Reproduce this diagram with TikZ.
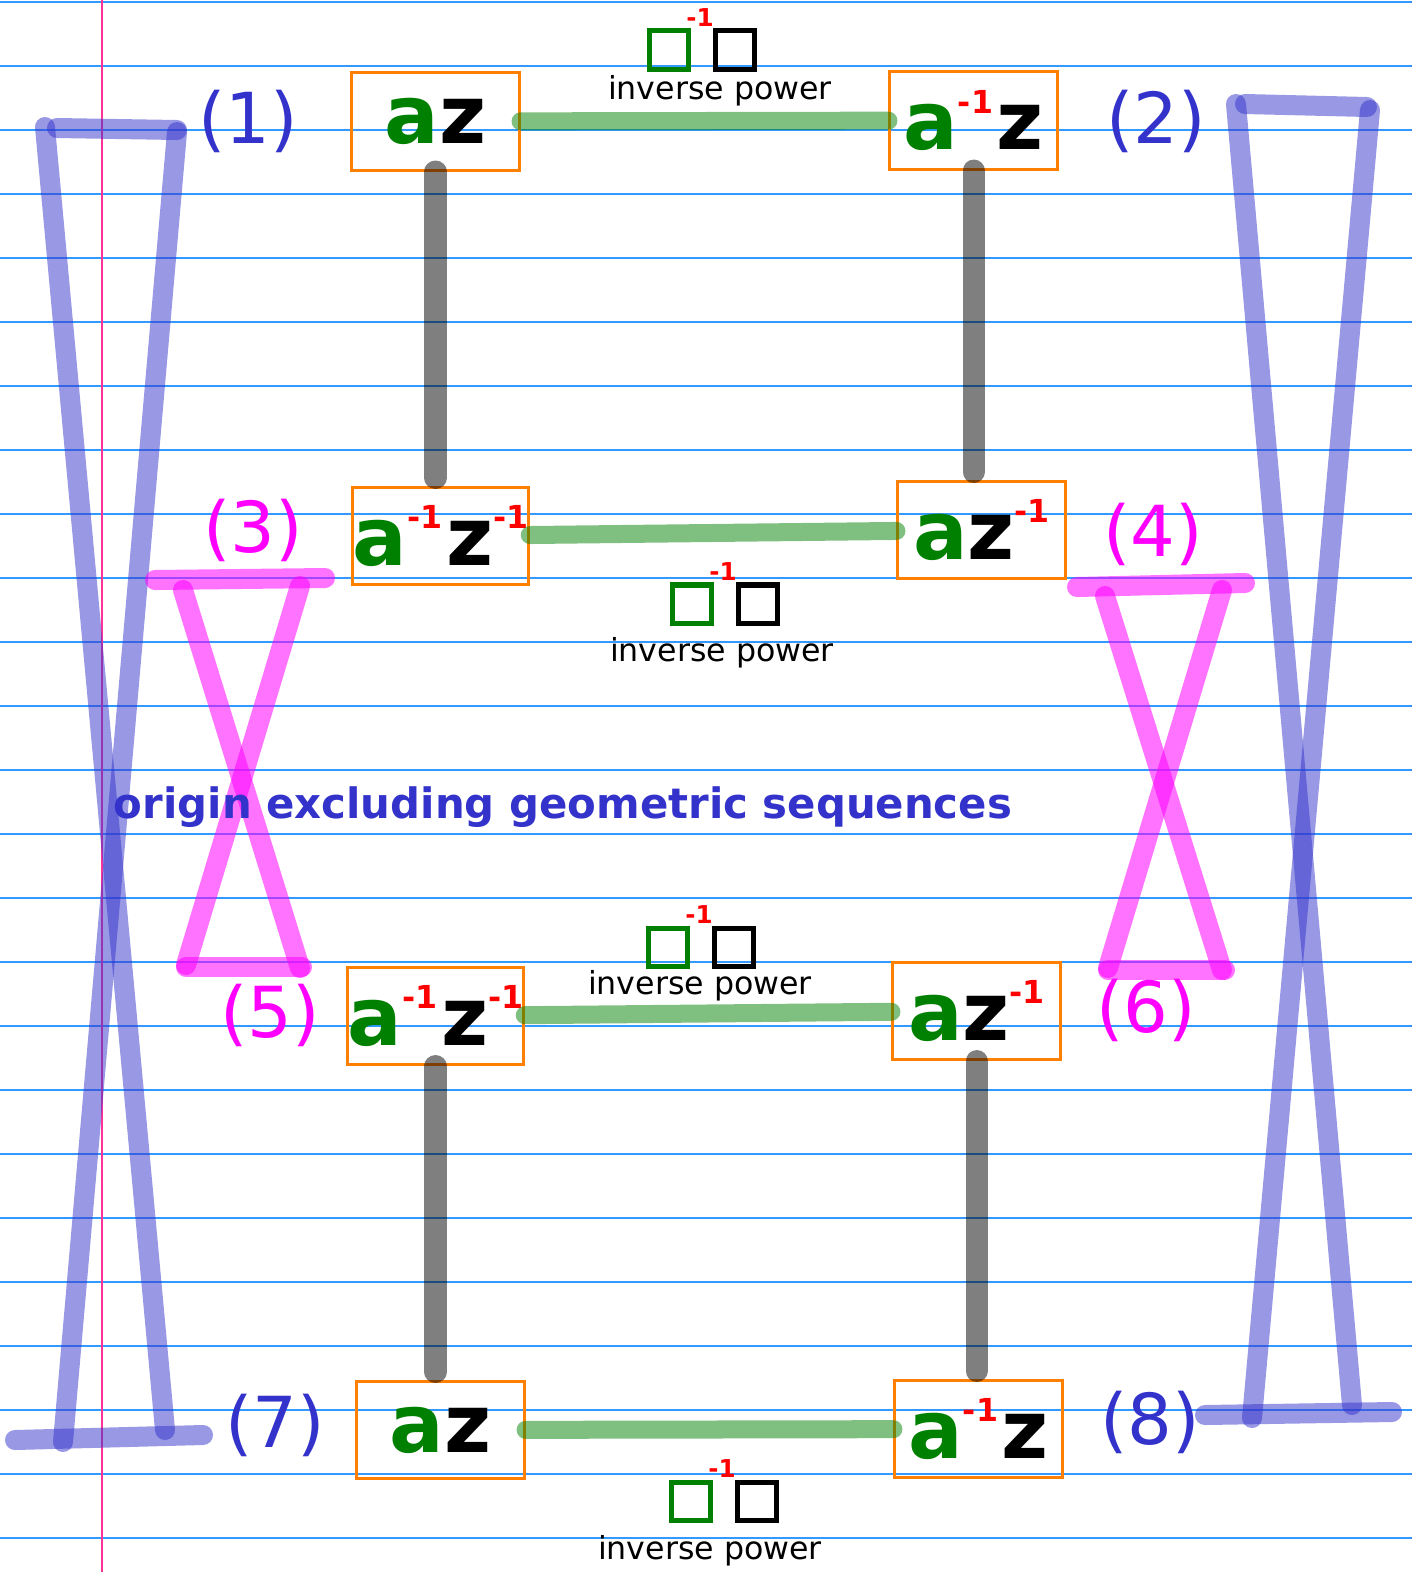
\documentclass[tikz,border=0pt]{standalone}
\usepackage{fontspec}
\setmainfont{DejaVu Sans}
\usepackage{xcolor}
\usepackage{tikz}
\usetikzlibrary{positioning}
\definecolor{inkblue}{HTML}{3333CC}
\definecolor{inkpink}{RGB}{255,0,255}
\definecolor{ruleblue}{HTML}{3399FF}
\definecolor{marginpink}{HTML}{FF3399}
\definecolor{boxorange}{HTML}{FF8000}
\definecolor{inkgreen}{HTML}{008000}
\definecolor{inkred}{RGB}{255,0,0}
\def\boxW{1.67cm}
\def\boxH{0.97cm}
\def\keySize{0.38cm}
\newcommand{\ta}{\textcolor{inkgreen}{a}}
\newcommand{\tz}{\textcolor{black}{z}}
\newcommand{\inv}{\textcolor{inkred}{\raisebox{0.45em}{\fontsize{9}{9}\selectfont\bfseries -1}}}
\newcommand{\powerkey}[3]{%
% #1 = name, #2 = x, #3 = y (centre of the two squares)
\node[keysq, draw=inkgreen] (#1g) at ({#2-33},{#3}) {};
\node[keysq, draw=black] (#1k) at ({#2+33},{#3}) {};
\node[powmark] (#1m) at ({#2-2},{#3-32}) {-1};
}

\begin{document}
\begin{tikzpicture}[
    x=0.01cm, y=-0.01cm,
    rule/.style={draw=ruleblue, line width=0.4pt},
    term/.style={draw=boxorange, line width=0.03cm, minimum width=\boxW,
        minimum height=\boxH, inner sep=0pt, font=\fontsize{23}{23}\selectfont\bfseries},
    keysq/.style={line width=0.05cm, minimum size=\keySize, inner sep=0pt},
    powmark/.style={text=inkred, inner sep=0pt, font=\fontsize{7}{7}\selectfont\bfseries},
    caption/.style={inner sep=0pt, font=\fontsize{9}{9}\selectfont},
    tag/.style={inner sep=0pt, font=\fontsize{20}{20}\selectfont},
    link/.style={draw=inkgreen, opacity=0.5, line width=0.18cm, line cap=round},
    rung/.style={draw=black, opacity=0.5, line width=0.22cm, line cap=round,
        shorten >=0.08cm},
    bluestroke/.style={draw=inkblue, opacity=0.5, line width=0.2cm, line cap=round},
    pinkstroke/.style={draw=inkpink, opacity=0.55, line width=0.2cm, line cap=round}
]
\useasboundingbox (0,0) rectangle (1412,1572);
\fill[white] (0,0) rectangle (1412,1572);
\foreach \k in {0,...,24}
    \draw[rule] (0,{2+64*\k}) -- (1412,{2+64*\k});
\draw[draw=marginpink, line width=0.4pt] (102,0) -- (102,1572);

% outer hourglasses
\draw[bluestroke] (57,128) -- (177,130);
\draw[bluestroke] (45,127) -- (165,1430);
\draw[bluestroke] (177,132) -- (63,1442);
\draw[bluestroke] (15,1440) -- (203,1435);
\draw[bluestroke] (1245,104) -- (1367,107);
\draw[bluestroke] (1236,104) -- (1352,1405);
\draw[bluestroke] (1370,110) -- (1252,1418);
\draw[bluestroke] (1205,1415) -- (1392,1412);

% inner hourglasses
\draw[pinkstroke] (155,580) -- (325,578);
\draw[pinkstroke] (183,590) -- (300,968);
\draw[pinkstroke] (300,586) -- (186,965);
\draw[pinkstroke] (186,967) -- (302,967);
\draw[pinkstroke] (1077,587) -- (1245,583);
\draw[pinkstroke] (1105,596) -- (1222,970);
\draw[pinkstroke] (1222,590) -- (1108,968);
\draw[pinkstroke] (1108,970) -- (1225,970);

\node[term] (1) at (435.5,121.5) {\ta\tz};
\node[term] (2) at (973.5,120.5) {\ta\inv\kern1pt\tz};
\node[term] (3) at (440.5,536) {\ta\inv\kern1pt\tz\inv};
\node[term] (4) at (981.5,530) {\ta\tz\inv};
\node[term] (5) at (435.5,1016) {\ta\inv\kern1pt\tz\inv};
\node[term] (6) at (976.5,1011) {\ta\tz\inv};
\node[term] (7) at (440.5,1430) {\ta\tz};
\node[term] (8) at (978.5,1429) {\ta\inv\kern1pt\tz};

\node[tag, text=inkblue] (l1) at (248,121) {(1)};
\node[tag, text=inkblue] (l2) at (1156,121) {(2)};
\node[tag, text=inkpink] (l3) at (253,530) {(3)};
\node[tag, text=inkpink] (l4) at (1153,534) {(4)};
\node[tag, text=inkpink] (l5) at (270,1015) {(5)};
\node[tag, text=inkpink] (l6) at (1146,1010) {(6)};
\node[tag, text=inkblue] (l7) at (275,1425) {(7)};
\node[tag, text=inkblue] (l8) at (1150,1422) {(8)};

\draw[link] (1) -- (2);
\draw[link] (3) -- (4);
\draw[link] (5) -- (6);
\draw[link] (7) -- (8);
\draw[rung] (1.south) -- (1.south |- 3.north);
\draw[rung] (2.south) -- (2.south |- 4.north);
\draw[rung] (5.south) -- (5.south |- 7.north);
\draw[rung] (6.south) -- (6.south |- 8.north);

\powerkey{k1}{702}{50}
\powerkey{k2}{725}{604}
\powerkey{k3}{701}{947}
\powerkey{k4}{724}{1501}
\node[caption] (c1) at (720,91) {inverse power};
\node[caption] (c2) at (722,653) {inverse power};
\node[caption] (c3) at (700,986) {inverse power};
\node[caption] (c4) at (710,1551) {inverse power};

\node[inner sep=0pt, text=inkblue, font=\fontsize{11.9}{11.9}\selectfont\bfseries]
    (title) at (563,807) {origin excluding geometric sequences};
\end{tikzpicture}
\end{document}
